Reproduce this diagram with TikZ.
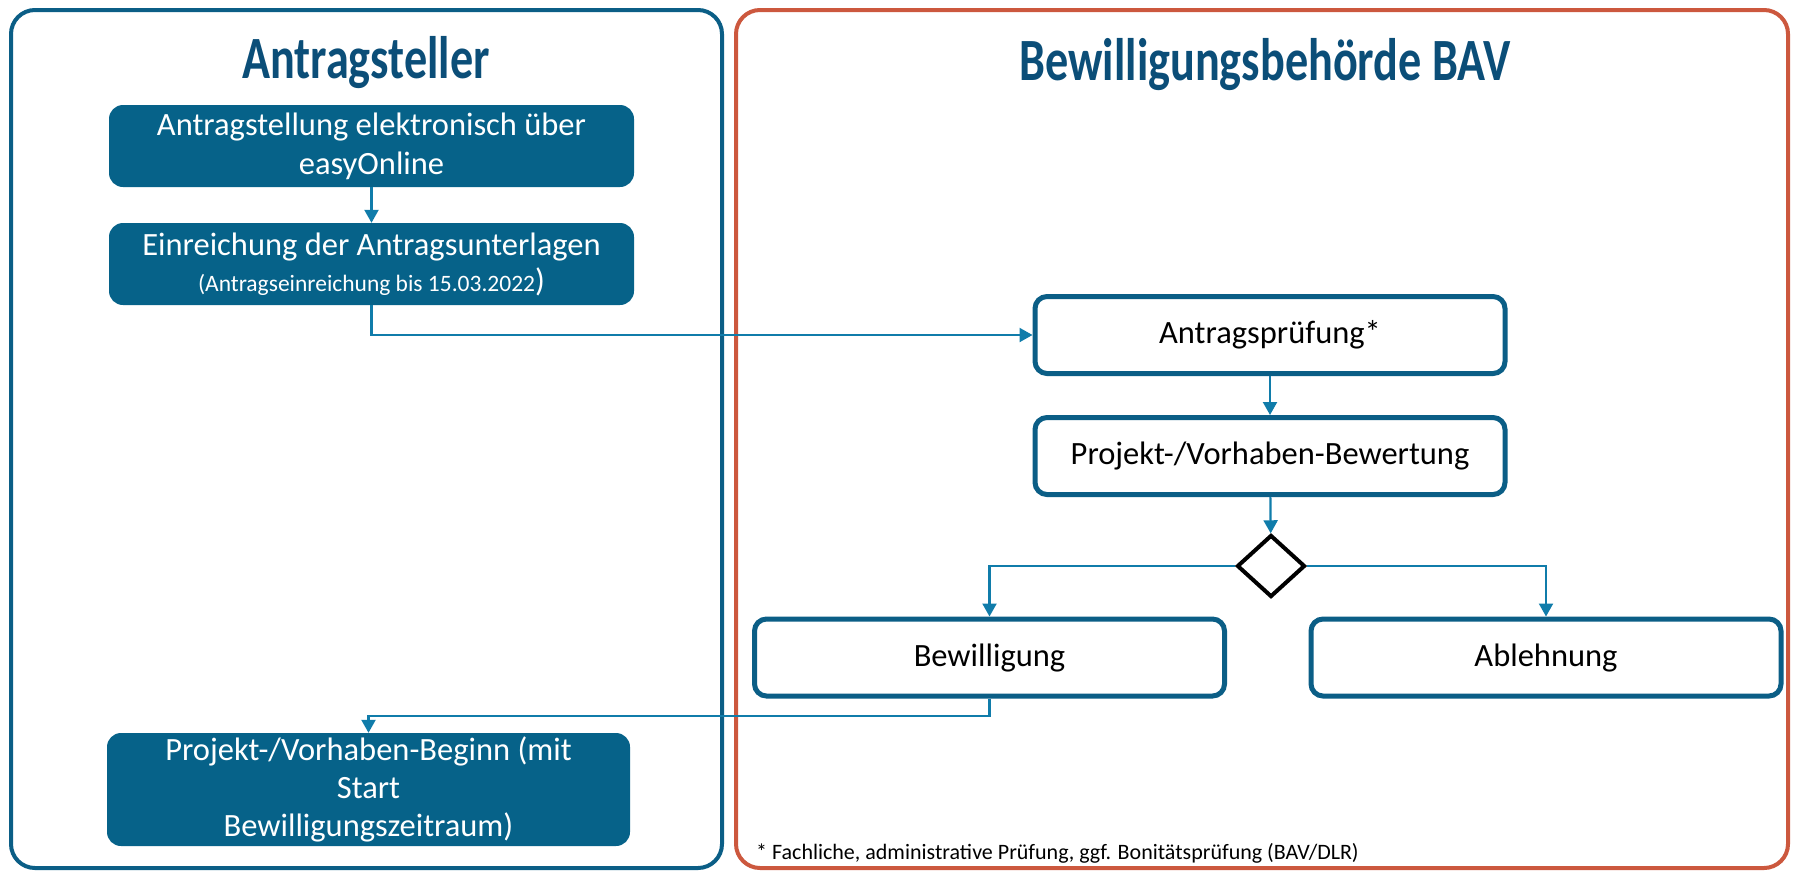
\documentclass[tikz,border=0pt]{standalone}
\usepackage{fontspec}
\setmainfont{Carlito}
\newfontfamily\lanefont[FakeStretch=0.77]{Carlito}
\usetikzlibrary{arrows.meta}
\usetikzlibrary{shapes}
\definecolor{laneBlue}{RGB}{11,94,134}
\definecolor{laneRed}{RGB}{204,88,62}
\definecolor{boxBlue}{RGB}{6,98,137}
\definecolor{titleBlue}{RGB}{11,78,120}
\definecolor{flowBlue}{RGB}{16,124,170}

\begin{document}
\begin{tikzpicture}[x = 1pt, y = -1pt]
	\tikzstyle{laneStyle}=[line width = 4pt, rounded corners = 24pt]
	\tikzstyle{titleStyle}=[anchor = base, inner sep = 0pt, text = titleBlue, font = \lanefont\bfseries\fontsize{60}{60}\selectfont]
	\tikzstyle{filledStyle}=[shape = rectangle, rounded corners = 14pt, fill = boxBlue, text = white, align = center, inner sep = 0pt, minimum width = 525pt, font = \fontsize{32.5}{39}\selectfont]
	\tikzstyle{openStyle}=[shape = rectangle, rounded corners = 12pt, draw = laneBlue, line width = 5pt, fill = white, inner sep = 0pt, minimum width = 470pt, minimum height = 77pt, font = \fontsize{32.5}{39}\selectfont]
	\tikzstyle{decisionStyle}=[shape = diamond, draw = black, line width = 4pt, inner sep = 0pt, minimum width = 68pt, minimum height = 62pt]
	\tikzstyle{flowStyle}=[draw = flowBlue, line width = 2.2pt, -{Triangle[length = 13pt, width = 14pt]}]
	\useasboundingbox (0,0) rectangle (1793,871);
	\draw[laneStyle, draw = laneBlue] (11,10) rectangle (722,868);
	\draw[laneStyle, draw = laneRed] (736,10) rectangle (1788,868);
	\node[titleStyle] (t1) at (366,78) {Antragsteller};
	\node[titleStyle] (t2) at (1265,80) {Bewilligungsbehörde BAV};
	\node[filledStyle, minimum height = 82pt] (antrag) at (371.5,146) {Antragstellung elektronisch über\\easyOnline};
	\node[filledStyle, minimum height = 82pt, font = \fontsize{32.5}{36}\selectfont] (einreich) at (371.5,264) {Einreichung der Antragsunterlagen\\{\fontsize{23.5}{36}\selectfont(Antragseinreichung bis 15.03.2022}{\fontsize{32.5}{36}\selectfont)}};
	\node[filledStyle, minimum width = 523pt, minimum height = 113pt, font = \fontsize{32.5}{38}\selectfont] (beginn) at (368.5,789.5) {Projekt-/Vorhaben-Beginn (mit\\Start\\Bewilligungszeitraum)};
	\node[openStyle] (pruef) at (1270,335) {Antragsprüfung*};
	\node[openStyle] (bewert) at (1270,456) {Projekt-/Vorhaben-Bewertung};
	\node[decisionStyle] (dec) at (1271,566) {};
	\node[openStyle] (bew) at (989.5,657.5) {Bewilligung};
	\node[openStyle] (abl) at (1546,657.5) {Ablehnung};
	\node[anchor = base west, inner sep = 0pt, font = \fontsize{22}{24}\selectfont] (fn) at (756,859) {* Fachliche, administrative Prüfung, ggf. Bonitätsprüfung (BAV/DLR)};
	\coordinate (knick) at (989.5,716);
	\draw[flowStyle] (antrag) -- (einreich);
	\draw[flowStyle] (einreich.south) |- (pruef.west);
	\draw[flowStyle] (pruef) -- (bewert);
	\draw[flowStyle] (bewert) -- (dec);
	\draw[flowStyle] (dec.west) -| (bew.north);
	\draw[flowStyle] (dec.east) -| (abl.north);
	\draw[flowStyle] (bew.south) -- (knick) -| (beginn.north);
\end{tikzpicture}
\end{document}
